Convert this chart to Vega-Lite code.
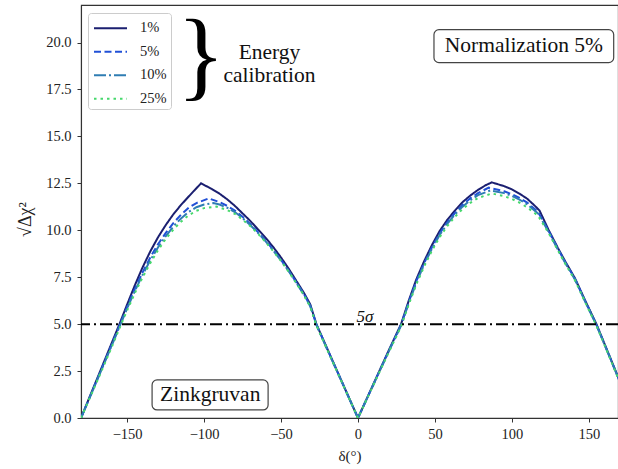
{
  "$schema": "https://vega.github.io/schema/vega-lite/v6.json",
  "width": 537,
  "height": 413,
  "autosize": {"type": "none"},
  "padding": {"left": 81, "top": 5, "right": 0, "bottom": 51},
  "background": "white",
  "config": {
    "font": "Liberation Serif, Times New Roman, serif",
    "view": {"stroke": "#333333", "strokeWidth": 1.1},
    "axis": {
      "grid": false,
      "domainColor": "#333333",
      "domainWidth": 1.1,
      "tickColor": "#333333",
      "tickSize": 4,
      "labelFont": "Liberation Serif, Times New Roman, serif",
      "labelFontSize": 14.5,
      "labelColor": "#222222",
      "labelPadding": 5,
      "titleFont": "Liberation Serif, Times New Roman, serif",
      "titleFontWeight": "normal",
      "titleColor": "#222222"
    },
    "legend": {
      "labelFont": "Liberation Serif, Times New Roman, serif",
      "labelFontSize": 14.5,
      "labelColor": "#222222"
    },
    "text": {"font": "Liberation Serif, Times New Roman, serif"}
  },
  "datasets": {
    "curves": [
      {"series": "1%", "delta": -180, "chi": 0},
      {"series": "1%", "delta": -170, "chi": 2.0},
      {"series": "1%", "delta": -160, "chi": 4.0},
      {"series": "1%", "delta": -155, "chi": 5.0},
      {"series": "1%", "delta": -150, "chi": 6.05},
      {"series": "1%", "delta": -145, "chi": 7.07},
      {"series": "1%", "delta": -140, "chi": 8.02},
      {"series": "1%", "delta": -135, "chi": 8.87},
      {"series": "1%", "delta": -130, "chi": 9.62},
      {"series": "1%", "delta": -125, "chi": 10.27},
      {"series": "1%", "delta": -120, "chi": 10.85},
      {"series": "1%", "delta": -115, "chi": 11.35},
      {"series": "1%", "delta": -110, "chi": 11.8},
      {"series": "1%", "delta": -106, "chi": 12.15},
      {"series": "1%", "delta": -102, "chi": 12.5},
      {"series": "1%", "delta": -95, "chi": 12.2},
      {"series": "1%", "delta": -90, "chi": 11.95},
      {"series": "1%", "delta": -85, "chi": 11.65},
      {"series": "1%", "delta": -80, "chi": 11.3},
      {"series": "1%", "delta": -75, "chi": 10.9},
      {"series": "1%", "delta": -70, "chi": 10.5},
      {"series": "1%", "delta": -65, "chi": 10.05},
      {"series": "1%", "delta": -60, "chi": 9.6},
      {"series": "1%", "delta": -55, "chi": 9.1},
      {"series": "1%", "delta": -50, "chi": 8.55},
      {"series": "1%", "delta": -45, "chi": 7.95},
      {"series": "1%", "delta": -40, "chi": 7.3},
      {"series": "1%", "delta": -35, "chi": 6.65},
      {"series": "1%", "delta": -31, "chi": 6.05},
      {"series": "1%", "delta": -27, "chi": 5.0},
      {"series": "1%", "delta": -20, "chi": 3.7},
      {"series": "1%", "delta": -10, "chi": 1.85},
      {"series": "1%", "delta": 0, "chi": 0},
      {"series": "1%", "delta": 10, "chi": 1.8},
      {"series": "1%", "delta": 20, "chi": 3.6},
      {"series": "1%", "delta": 28, "chi": 5.0},
      {"series": "1%", "delta": 33, "chi": 6.25},
      {"series": "1%", "delta": 38, "chi": 7.4},
      {"series": "1%", "delta": 43, "chi": 8.35},
      {"series": "1%", "delta": 48, "chi": 9.2},
      {"series": "1%", "delta": 53, "chi": 9.95},
      {"series": "1%", "delta": 58, "chi": 10.55},
      {"series": "1%", "delta": 63, "chi": 11.05},
      {"series": "1%", "delta": 68, "chi": 11.5},
      {"series": "1%", "delta": 73, "chi": 11.85},
      {"series": "1%", "delta": 78, "chi": 12.15},
      {"series": "1%", "delta": 83, "chi": 12.4},
      {"series": "1%", "delta": 87, "chi": 12.55},
      {"series": "1%", "delta": 95, "chi": 12.35},
      {"series": "1%", "delta": 100, "chi": 12.18},
      {"series": "1%", "delta": 105, "chi": 11.95},
      {"series": "1%", "delta": 110, "chi": 11.68},
      {"series": "1%", "delta": 115, "chi": 11.3},
      {"series": "1%", "delta": 118, "chi": 11.05},
      {"series": "1%", "delta": 124, "chi": 10.0},
      {"series": "1%", "delta": 130, "chi": 9.05},
      {"series": "1%", "delta": 135, "chi": 8.3},
      {"series": "1%", "delta": 141, "chi": 7.45},
      {"series": "1%", "delta": 148, "chi": 6.2},
      {"series": "1%", "delta": 155, "chi": 5.0},
      {"series": "1%", "delta": 162, "chi": 3.6},
      {"series": "1%", "delta": 169, "chi": 2.2},
      {"series": "1%", "delta": 180, "chi": 0},

      {"series": "5%", "delta": -180, "chi": 0},
      {"series": "5%", "delta": -170, "chi": 1.95},
      {"series": "5%", "delta": -160, "chi": 3.92},
      {"series": "5%", "delta": -155, "chi": 4.92},
      {"series": "5%", "delta": -150, "chi": 5.92},
      {"series": "5%", "delta": -145, "chi": 6.88},
      {"series": "5%", "delta": -140, "chi": 7.75},
      {"series": "5%", "delta": -135, "chi": 8.55},
      {"series": "5%", "delta": -130, "chi": 9.25},
      {"series": "5%", "delta": -125, "chi": 9.85},
      {"series": "5%", "delta": -120, "chi": 10.38},
      {"series": "5%", "delta": -115, "chi": 10.83},
      {"series": "5%", "delta": -110, "chi": 11.2},
      {"series": "5%", "delta": -105, "chi": 11.45},
      {"series": "5%", "delta": -97, "chi": 11.7},
      {"series": "5%", "delta": -90, "chi": 11.5},
      {"series": "5%", "delta": -85, "chi": 11.3},
      {"series": "5%", "delta": -80, "chi": 11.05},
      {"series": "5%", "delta": -75, "chi": 10.72},
      {"series": "5%", "delta": -70, "chi": 10.33},
      {"series": "5%", "delta": -65, "chi": 9.9},
      {"series": "5%", "delta": -60, "chi": 9.45},
      {"series": "5%", "delta": -55, "chi": 8.95},
      {"series": "5%", "delta": -50, "chi": 8.42},
      {"series": "5%", "delta": -45, "chi": 7.85},
      {"series": "5%", "delta": -40, "chi": 7.22},
      {"series": "5%", "delta": -35, "chi": 6.58},
      {"series": "5%", "delta": -31, "chi": 5.98},
      {"series": "5%", "delta": -27, "chi": 4.98},
      {"series": "5%", "delta": -20, "chi": 3.68},
      {"series": "5%", "delta": -10, "chi": 1.84},
      {"series": "5%", "delta": 0, "chi": 0},
      {"series": "5%", "delta": 10, "chi": 1.78},
      {"series": "5%", "delta": 20, "chi": 3.57},
      {"series": "5%", "delta": 28, "chi": 4.96},
      {"series": "5%", "delta": 33, "chi": 6.18},
      {"series": "5%", "delta": 38, "chi": 7.3},
      {"series": "5%", "delta": 43, "chi": 8.25},
      {"series": "5%", "delta": 48, "chi": 9.08},
      {"series": "5%", "delta": 53, "chi": 9.82},
      {"series": "5%", "delta": 58, "chi": 10.42},
      {"series": "5%", "delta": 63, "chi": 10.92},
      {"series": "5%", "delta": 68, "chi": 11.35},
      {"series": "5%", "delta": 73, "chi": 11.7},
      {"series": "5%", "delta": 78, "chi": 11.98},
      {"series": "5%", "delta": 85, "chi": 12.27},
      {"series": "5%", "delta": 95, "chi": 12.08},
      {"series": "5%", "delta": 100, "chi": 11.92},
      {"series": "5%", "delta": 105, "chi": 11.72},
      {"series": "5%", "delta": 110, "chi": 11.47},
      {"series": "5%", "delta": 117, "chi": 10.98},
      {"series": "5%", "delta": 124, "chi": 9.95},
      {"series": "5%", "delta": 130, "chi": 9.0},
      {"series": "5%", "delta": 135, "chi": 8.26},
      {"series": "5%", "delta": 141, "chi": 7.42},
      {"series": "5%", "delta": 148, "chi": 6.17},
      {"series": "5%", "delta": 155, "chi": 4.97},
      {"series": "5%", "delta": 162, "chi": 3.58},
      {"series": "5%", "delta": 169, "chi": 2.18},
      {"series": "5%", "delta": 180, "chi": 0},

      {"series": "10%", "delta": -180, "chi": 0},
      {"series": "10%", "delta": -170, "chi": 1.92},
      {"series": "10%", "delta": -160, "chi": 3.86},
      {"series": "10%", "delta": -155, "chi": 4.86},
      {"series": "10%", "delta": -150, "chi": 5.84},
      {"series": "10%", "delta": -145, "chi": 6.76},
      {"series": "10%", "delta": -140, "chi": 7.62},
      {"series": "10%", "delta": -135, "chi": 8.4},
      {"series": "10%", "delta": -130, "chi": 9.08},
      {"series": "10%", "delta": -125, "chi": 9.68},
      {"series": "10%", "delta": -120, "chi": 10.2},
      {"series": "10%", "delta": -115, "chi": 10.63},
      {"series": "10%", "delta": -110, "chi": 10.98},
      {"series": "10%", "delta": -105, "chi": 11.23},
      {"series": "10%", "delta": -100, "chi": 11.37},
      {"series": "10%", "delta": -94, "chi": 11.45},
      {"series": "10%", "delta": -90, "chi": 11.37},
      {"series": "10%", "delta": -85, "chi": 11.2},
      {"series": "10%", "delta": -80, "chi": 10.97},
      {"series": "10%", "delta": -75, "chi": 10.65},
      {"series": "10%", "delta": -70, "chi": 10.28},
      {"series": "10%", "delta": -65, "chi": 9.86},
      {"series": "10%", "delta": -60, "chi": 9.41},
      {"series": "10%", "delta": -55, "chi": 8.92},
      {"series": "10%", "delta": -50, "chi": 8.39},
      {"series": "10%", "delta": -45, "chi": 7.82},
      {"series": "10%", "delta": -40, "chi": 7.2},
      {"series": "10%", "delta": -35, "chi": 6.55},
      {"series": "10%", "delta": -31, "chi": 5.95},
      {"series": "10%", "delta": -27, "chi": 4.96},
      {"series": "10%", "delta": -20, "chi": 3.66},
      {"series": "10%", "delta": -10, "chi": 1.83},
      {"series": "10%", "delta": 0, "chi": 0},
      {"series": "10%", "delta": 10, "chi": 1.77},
      {"series": "10%", "delta": 20, "chi": 3.54},
      {"series": "10%", "delta": 28, "chi": 4.92},
      {"series": "10%", "delta": 33, "chi": 6.12},
      {"series": "10%", "delta": 38, "chi": 7.22},
      {"series": "10%", "delta": 43, "chi": 8.17},
      {"series": "10%", "delta": 48, "chi": 9.0},
      {"series": "10%", "delta": 53, "chi": 9.74},
      {"series": "10%", "delta": 58, "chi": 10.34},
      {"series": "10%", "delta": 63, "chi": 10.84},
      {"series": "10%", "delta": 68, "chi": 11.26},
      {"series": "10%", "delta": 73, "chi": 11.6},
      {"series": "10%", "delta": 78, "chi": 11.87},
      {"series": "10%", "delta": 86, "chi": 12.12},
      {"series": "10%", "delta": 95, "chi": 11.98},
      {"series": "10%", "delta": 100, "chi": 11.83},
      {"series": "10%", "delta": 105, "chi": 11.63},
      {"series": "10%", "delta": 110, "chi": 11.38},
      {"series": "10%", "delta": 117, "chi": 10.9},
      {"series": "10%", "delta": 124, "chi": 9.9},
      {"series": "10%", "delta": 130, "chi": 8.96},
      {"series": "10%", "delta": 135, "chi": 8.22},
      {"series": "10%", "delta": 141, "chi": 7.38},
      {"series": "10%", "delta": 148, "chi": 6.14},
      {"series": "10%", "delta": 155, "chi": 4.94},
      {"series": "10%", "delta": 162, "chi": 3.56},
      {"series": "10%", "delta": 169, "chi": 2.16},
      {"series": "10%", "delta": 180, "chi": 0},

      {"series": "25%", "delta": -180, "chi": 0},
      {"series": "25%", "delta": -170, "chi": 1.87},
      {"series": "25%", "delta": -160, "chi": 3.78},
      {"series": "25%", "delta": -155, "chi": 4.78},
      {"series": "25%", "delta": -150, "chi": 5.74},
      {"series": "25%", "delta": -145, "chi": 6.65},
      {"series": "25%", "delta": -140, "chi": 7.49},
      {"series": "25%", "delta": -135, "chi": 8.25},
      {"series": "25%", "delta": -130, "chi": 8.93},
      {"series": "25%", "delta": -125, "chi": 9.53},
      {"series": "25%", "delta": -120, "chi": 10.04},
      {"series": "25%", "delta": -115, "chi": 10.46},
      {"series": "25%", "delta": -110, "chi": 10.8},
      {"series": "25%", "delta": -105, "chi": 11.04},
      {"series": "25%", "delta": -100, "chi": 11.18},
      {"series": "25%", "delta": -92, "chi": 11.26},
      {"series": "25%", "delta": -85, "chi": 11.08},
      {"series": "25%", "delta": -80, "chi": 10.87},
      {"series": "25%", "delta": -75, "chi": 10.57},
      {"series": "25%", "delta": -70, "chi": 10.22},
      {"series": "25%", "delta": -65, "chi": 9.82},
      {"series": "25%", "delta": -60, "chi": 9.37},
      {"series": "25%", "delta": -55, "chi": 8.88},
      {"series": "25%", "delta": -50, "chi": 8.36},
      {"series": "25%", "delta": -45, "chi": 7.79},
      {"series": "25%", "delta": -40, "chi": 7.17},
      {"series": "25%", "delta": -35, "chi": 6.52},
      {"series": "25%", "delta": -31, "chi": 5.92},
      {"series": "25%", "delta": -27, "chi": 4.93},
      {"series": "25%", "delta": -20, "chi": 3.64},
      {"series": "25%", "delta": -10, "chi": 1.82},
      {"series": "25%", "delta": 0, "chi": 0},
      {"series": "25%", "delta": 10, "chi": 1.75},
      {"series": "25%", "delta": 20, "chi": 3.5},
      {"series": "25%", "delta": 28, "chi": 4.87},
      {"series": "25%", "delta": 33, "chi": 6.05},
      {"series": "25%", "delta": 38, "chi": 7.13},
      {"series": "25%", "delta": 43, "chi": 8.07},
      {"series": "25%", "delta": 48, "chi": 8.9},
      {"series": "25%", "delta": 53, "chi": 9.62},
      {"series": "25%", "delta": 58, "chi": 10.22},
      {"series": "25%", "delta": 63, "chi": 10.72},
      {"series": "25%", "delta": 68, "chi": 11.13},
      {"series": "25%", "delta": 73, "chi": 11.46},
      {"series": "25%", "delta": 78, "chi": 11.72},
      {"series": "25%", "delta": 87, "chi": 11.96},
      {"series": "25%", "delta": 95, "chi": 11.82},
      {"series": "25%", "delta": 100, "chi": 11.67},
      {"series": "25%", "delta": 105, "chi": 11.47},
      {"series": "25%", "delta": 110, "chi": 11.22},
      {"series": "25%", "delta": 117, "chi": 10.78},
      {"series": "25%", "delta": 124, "chi": 9.84},
      {"series": "25%", "delta": 130, "chi": 8.92},
      {"series": "25%", "delta": 135, "chi": 8.18},
      {"series": "25%", "delta": 141, "chi": 7.34},
      {"series": "25%", "delta": 148, "chi": 6.11},
      {"series": "25%", "delta": 155, "chi": 4.92},
      {"series": "25%", "delta": 162, "chi": 3.54},
      {"series": "25%", "delta": 169, "chi": 2.14},
      {"series": "25%", "delta": 180, "chi": 0}
    ]
  },
  "layer": [
    {
      "data": {"name": "curves"},
      "mark": {"type": "line", "strokeWidth": 2, "clip": true},
      "encoding": {
        "x": {
          "field": "delta",
          "type": "quantitative",
          "scale": {"domain": [-180, 169], "nice": false, "zero": false},
          "axis": {
            "title": "δ(°)",
            "titleFontSize": 15,
            "values": [-150, -100, -50, 0, 50, 100, 150],
            "format": "d",
            "titlePadding": 8
          }
        },
        "y": {
          "field": "chi",
          "type": "quantitative",
          "scale": {"domain": [0, 22], "nice": false},
          "axis": {
            "title": "√Δχ²",
            "titleFontSize": 18,
            "titleY": 214,
            "values": [0, 2.5, 5, 7.5, 10, 12.5, 15, 17.5, 20],
            "format": ".1f",
            "labelPadding": 6,
            "titlePadding": 11
          }
        },
        "color": {
          "field": "series",
          "type": "nominal",
          "sort": ["1%", "5%", "10%", "25%"],
          "scale": {
            "domain": ["1%", "5%", "10%", "25%"],
            "range": ["#1b1f70", "#2150d6", "#2f7db3", "#46d86c"]
          },
          "legend": {
            "title": null,
            "orient": "none",
            "legendX": 7,
            "legendY": 8,
            "symbolType": "M-0.881,0H2.262",
            "symbolSize": 441,
            "symbolStrokeWidth": 2,
            "labelOffset": 25.25,
            "rowPadding": 5.5,
            "padding": 3.75,
            "fillColor": "white",
            "strokeColor": "#cccccc",
            "cornerRadius": 3
          }
        },
        "strokeDash": {
          "field": "series",
          "type": "nominal",
          "sort": ["1%", "5%", "10%", "25%"],
          "scale": {
            "domain": ["1%", "5%", "10%", "25%"],
            "range": [[1, 0], [7, 3.5], [12, 3, 2, 3], [2.5, 4]]
          },
          "legend": {
            "title": null,
            "orient": "none",
            "legendX": 7,
            "legendY": 8,
            "symbolType": "M-0.881,0H2.262",
            "symbolSize": 441,
            "symbolStrokeWidth": 2,
            "labelOffset": 25.25,
            "rowPadding": 5.5,
            "padding": 3.75,
            "fillColor": "white",
            "strokeColor": "#cccccc",
            "cornerRadius": 3
          }
        }
      }
    },
    {
      "data": {"values": [{}]},
      "mark": {"type": "rule", "color": "black", "strokeWidth": 2, "strokeDash": [12, 4, 2, 4]},
      "encoding": {"y": {"datum": 5}}
    },
    {
      "data": {"values": [{}]},
      "mark": {"type": "text", "text": "5σ", "fontSize": 17, "fontStyle": "italic", "align": "center", "baseline": "alphabetic", "dy": -2, "color": "#111111"},
      "encoding": {"x": {"datum": 4.5}, "y": {"datum": 5}}
    },
    {
      "data": {"values": [{}]},
      "mark": {"type": "rect", "fill": "white", "stroke": "#444444", "strokeWidth": 1.2, "cornerRadius": 5},
      "encoding": {"x": {"datum": -133.8}, "x2": {"datum": -58.4}, "y": {"datum": 2.03}, "y2": {"datum": 0.43}}
    },
    {
      "data": {"values": [{}]},
      "mark": {"type": "text", "text": "Zinkgruvan", "fontSize": 21.5, "align": "center", "baseline": "middle", "color": "#111111"},
      "encoding": {"x": {"datum": -96}, "y": {"datum": 1.23}}
    },
    {
      "data": {"values": [{}]},
      "mark": {"type": "rect", "fill": "white", "stroke": "#444444", "strokeWidth": 1.2, "cornerRadius": 5},
      "encoding": {"x": {"datum": 49.4}, "x2": {"datum": 166.2}, "y": {"datum": 20.69}, "y2": {"datum": 18.93}}
    },
    {
      "data": {"values": [{}]},
      "mark": {"type": "text", "text": "Normalization 5%", "fontSize": 21.5, "align": "center", "baseline": "middle", "color": "#111111"},
      "encoding": {"x": {"datum": 107.8}, "y": {"datum": 19.8}}
    },
    {
      "data": {"values": [{}]},
      "mark": {"type": "text", "text": "}", "fontSize": 100, "align": "center", "baseline": "middle", "color": "black"},
      "encoding": {"x": {"datum": -102}, "y": {"datum": 19.2}}
    },
    {
      "data": {"values": [{}]},
      "mark": {"type": "text", "text": ["Energy", "calibration"], "fontSize": 21.5, "lineHeight": 23, "align": "center", "baseline": "middle", "color": "#111111"},
      "encoding": {"x": {"datum": -57.5}, "y": {"datum": 19.45}}
    }
  ]
}
